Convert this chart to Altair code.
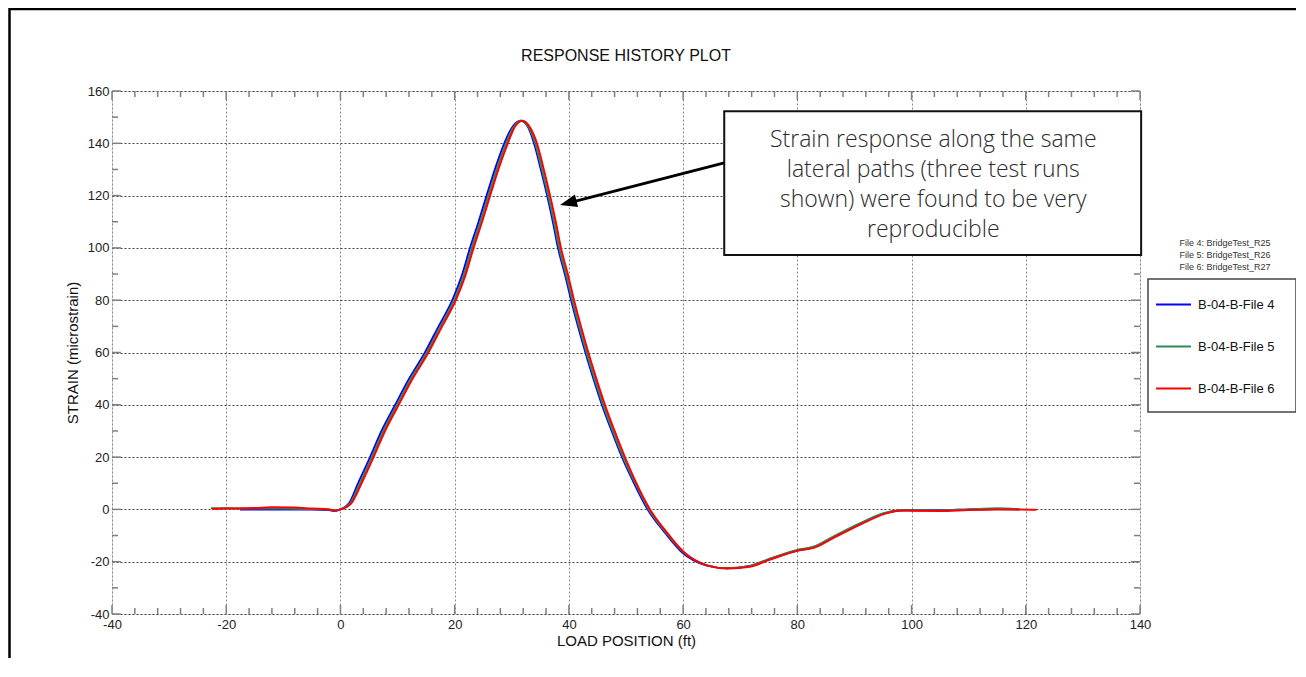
import altair as alt
import pandas as pd

# ---------------- data ----------------
series_names = ["B-04-B-File 4", "B-04-B-File 5", "B-04-B-File 6"]
series_colors = ["#0000ff", "#2e8b57", "#ff0000"]

x4 = [-17.6, -15, -10, -5, -2, -1, 0, 1.5, 3.1, 5.2, 7.2, 9.6, 11.9, 14.8, 17.1, 19.6, 21.2,
      22.7, 24.2, 25.6, 27.2, 28.7, 30.2, 31.6, 32.9, 33.9, 35.1, 36.2, 37.2, 38.1, 39.3, 40.4,
      41.6, 42.9, 44.3, 45.8, 47.5, 49.3, 51.2, 53.8, 56.6, 59.8, 64.0, 67.5, 71.6, 74.6, 80.0,
      82.8, 86.3, 91.0, 95.0, 98.0, 100, 105, 110, 115, 118.9]
y4 = [0.0, 0.0, 0.0, 0.0, -0.2, -0.6, 0.0, 2.3, 10.0, 20.0, 30.0, 40.0, 49.5, 60.0, 69.6, 80.0, 89.0,
      100.0, 110.0, 120.0, 131.0, 140.0, 146.5, 148.6, 146.0, 140.0, 130.0, 120.0, 110.0, 100.0, 90.0, 80.0,
      70.0, 60.0, 50.0, 40.0, 30.0, 20.0, 11.0, 0.0, -8.3, -16.4, -21.4, -22.5, -21.7, -19.5, -15.7,
      -14.5, -10.6, -5.5, -1.6, -0.4, -0.3, -0.3, 0.0, 0.2, 0.0]

x5 = [-22.7, -20, -15, -10, -5, -2, -1, 0, 1.7, 3.4, 5.5, 7.5, 9.9, 12.2, 15.1, 17.4, 19.9, 21.5,
      23.0, 24.5, 25.9, 27.5, 29.0, 30.4, 31.7, 33.0, 34.1, 35.3, 36.4, 37.4, 38.3, 39.5, 40.6,
      41.8, 43.1, 44.5, 46.0, 47.7, 49.5, 51.4, 54.0, 56.8, 60.0, 64.1, 67.6, 71.7, 74.6, 80.0,
      82.8, 86.3, 91.0, 95.1, 98.0, 100, 105, 110, 115, 118.7]
y5 = [0.4, 0.4, 0.3, 0.3, 0.2, 0.0, -0.4, 0.0, 2.3, 10.0, 20.0, 30.0, 40.0, 49.5, 60.0, 69.6, 80.0, 89.0,
      100.0, 110.0, 120.0, 131.0, 140.0, 146.5, 148.6, 146.0, 140.0, 130.0, 120.0, 110.0, 100.0, 90.0, 80.0,
      70.0, 60.0, 50.0, 40.0, 30.0, 20.0, 11.0, 0.0, -8.3, -16.2, -21.3, -22.5, -21.6, -19.3, -15.5,
      -14.3, -10.4, -5.3, -1.5, -0.3, -0.3, -0.4, 0.0, 0.4, 0.0]

x6 = [-22.5, -20, -15, -12, -8, -5, -2, -1, 0, 1.9, 3.7, 5.8, 7.8, 10.2, 12.5, 15.4, 17.7, 20.2,
      21.8, 23.3, 24.8, 26.2, 27.8, 29.3, 30.6, 31.9, 33.2, 34.4, 35.6, 36.7, 37.7, 38.6, 39.8,
      40.9, 42.1, 43.4, 44.8, 46.3, 48.0, 49.8, 51.6, 54.2, 57.0, 60.2, 64.3, 67.8, 71.9, 74.8,
      80.2, 83.0, 86.5, 91.2, 95.3, 98.2, 100, 105, 110, 115, 119, 121.9]
y6 = [0.2, 0.3, 0.5, 0.8, 0.7, 0.3, 0.0, -0.4, 0.0, 2.3, 10.0, 20.0, 30.0, 40.0, 49.5, 60.0, 69.6, 80.0,
      89.0, 100.0, 110.0, 120.0, 131.0, 140.0, 146.5, 148.6, 146.0, 140.0, 130.0, 120.0, 110.0, 100.0, 90.0,
      80.0, 70.0, 60.0, 50.0, 40.0, 30.0, 20.0, 11.0, 0.0, -8.4, -16.5, -21.5, -22.6, -21.8, -19.5,
      -15.7, -14.6, -10.7, -5.6, -1.7, -0.4, -0.5, -0.6, -0.2, 0.0, 0.0, -0.1]

x_major = [-40, -20, 0, 20, 40, 60, 80, 100, 120, 140]
y_major = [-40, -20, 0, 20, 40, 60, 80, 100, 120, 140, 160]
x_minor = [-36, -32, -28, -24, -16, -12, -8, -4, 4, 8, 12, 16, 24, 28, 32, 36, 44, 48, 52, 56,
           64, 68, 72, 76, 84, 88, 92, 96, 104, 108, 112, 116, 124, 128, 132, 136]
y_minor = [-30, -10, 10, 30, 50, 70, 90, 110, 130, 150]

title_text = "RESPONSE HISTORY PLOT"
x_title = "LOAD POSITION (ft)"
y_title = "STRAIN (microstrain)"
note_lines = ["Strain response along the same", "lateral paths (three test runs",
              "shown) were found to be very", "reproducible"]
file_lines = ["File 4: BridgeTest_R25", "File 5: BridgeTest_R26", "File 6: BridgeTest_R27"]

# annotation geometry in data units
note_box = {"x": 67.2, "x2": 140.2, "y": 97.3, "y2": 152.3}
note_first_line = {"x": 103.8, "y": 141.4}
arrow_start = {"x": 67.2, "y": 132.5}
arrow_base = {"x": 40.5, "y": 117.5}
arrow_tip = {"x": 38.45, "y": 116.4}

# ---------------- build tables ----------------
frames = []
for name, xs_, ys_ in zip(series_names, [x4, x5, x6], [y4, y5, y6]):
    frames.append(pd.DataFrame({"x": xs_, "y": ys_, "series": name}))
df = pd.concat(frames, ignore_index=True)

W, H = 1028, 523
FONT = "Liberation Sans"
xs = alt.Scale(domain=[-40, 140], nice=False, zero=False)
ys = alt.Scale(domain=[-40, 160], nice=False, zero=False)
plain_label = "datum.value + ''"

frame = alt.Chart(pd.DataFrame({"a": [0]})).mark_rect(
    filled=False, stroke="#000000", strokeWidth=2.5
).encode(x=alt.value(-102.5), x2=alt.value(W + 400), y=alt.value(-82), y2=alt.value(H + 400))

title = alt.Chart(pd.DataFrame({"a": [0]})).mark_text(
    text=title_text, font=FONT, fontSize=16, color="#111", align="center", baseline="middle"
).encode(x=alt.value(W / 2), y=alt.value(-35))

lines = alt.Chart(df).mark_line(strokeWidth=2, interpolate="monotone").encode(
    x=alt.X("x:Q", scale=xs, title=x_title,
            axis=alt.Axis(values=x_major, grid=True, gridDash=[2, 2], gridColor="#8a8a8a",
                          gridWidth=1, domain=False, ticks=False, labelFontSize=13, labelFont=FONT,
                          labelColor="#222", labelPadding=4, labelFlush=False, labelOverlap=False,
                          labelExpr=plain_label,
                          titleFont=FONT, titleFontSize=15, titleFontWeight="normal",
                          titleColor="#111", titlePadding=2)),
    y=alt.Y("y:Q", scale=ys, title=y_title,
            axis=alt.Axis(values=y_major, grid=True, gridDash=[2, 2], gridColor="#444444",
                          gridWidth=1, domain=False, ticks=False, labelFontSize=13, labelFont=FONT,
                          labelColor="#222", labelPadding=3, labelFlush=False, labelOverlap=False,
                          labelExpr=plain_label,
                          titleFont=FONT, titleFontSize=15, titleFontWeight="normal",
                          titleColor="#111", titlePadding=7)),
    color=alt.Color("series:N", scale=alt.Scale(domain=series_names, range=series_colors),
                    legend=alt.Legend(orient="none", legendX=1036, legendY=188, title=None,
                                      symbolType="stroke", symbolSize=1225, symbolStrokeWidth=2,
                                      rowPadding=16, labelFontSize=13, labelFont=FONT,
                                      labelColor="#111", labelOffset=6, padding=7)),
)

tick_color = "#7f7f7f"
xmin_df = pd.DataFrame({"x": x_minor})
xmaj_df = pd.DataFrame({"x": x_major})
ymin_df = pd.DataFrame({"y": y_minor})
ymaj_df = pd.DataFrame({"y": y_major})


def xticks(data, length):
    bottom = alt.Chart(data).mark_rule(color=tick_color, strokeWidth=1.5).encode(
        x=alt.X("x:Q", scale=xs), y=alt.value(H), y2=alt.value(H - length))
    top = alt.Chart(data).mark_rule(color=tick_color, strokeWidth=1.5).encode(
        x=alt.X("x:Q", scale=xs), y=alt.value(0), y2=alt.value(length))
    return [bottom, top]


def yticks(data, length):
    left = alt.Chart(data).mark_rule(color=tick_color, strokeWidth=1.5).encode(
        y=alt.Y("y:Q", scale=ys), x=alt.value(0), x2=alt.value(length))
    right = alt.Chart(data).mark_rule(color=tick_color, strokeWidth=1.5).encode(
        y=alt.Y("y:Q", scale=ys), x=alt.value(W), x2=alt.value(W - length))
    return [left, right]


ticks = xticks(xmin_df, 6) + xticks(xmaj_df, 9) + yticks(ymin_df, 6) + yticks(ymaj_df, 9)

box = alt.Chart(pd.DataFrame([note_box])).mark_rect(
    fill="white", stroke="#111", strokeWidth=2
).encode(x=alt.X("x:Q", scale=xs), x2="x2:Q", y=alt.Y("y:Q", scale=ys), y2="y2:Q")

note = alt.Chart(pd.DataFrame([note_first_line])).mark_text(
    text=note_lines, font="Open Sans", fontSize=23, fontWeight=300, lineHeight=30,
    color="#2a2a2a", align="center", baseline="middle"
).encode(x=alt.X("x:Q", scale=xs), y=alt.Y("y:Q", scale=ys))

shaft = alt.Chart(pd.DataFrame([{"x": arrow_start["x"], "y": arrow_start["y"],
                                 "x2": arrow_base["x"], "y2": arrow_base["y"]}])).mark_rule(
    color="black", strokeWidth=3
).encode(x=alt.X("x:Q", scale=xs), x2="x2:Q", y=alt.Y("y:Q", scale=ys), y2="y2:Q")

head = alt.Chart(pd.DataFrame([arrow_tip])).mark_point(
    shape="M0,0 L1,-0.38 L1,0.38 Z", filled=True, size=1156, angle=345.6,
    color="black", opacity=1
).encode(x=alt.X("x:Q", scale=xs), y=alt.Y("y:Q", scale=ys))

legend_box = alt.Chart(pd.DataFrame({"a": [0]})).mark_rect(
    fill="white", stroke="#444", strokeWidth=1.5
).encode(x=alt.value(1036), x2=alt.value(1184), y=alt.value(188), y2=alt.value(321))

file_text = alt.Chart(pd.DataFrame({"a": [0]})).mark_text(
    text=file_lines, font=FONT, fontSize=9, lineHeight=12, color="#333",
    align="center", baseline="top"
).encode(x=alt.value(1113), y=alt.value(148))

chart = alt.layer(
    frame, title, legend_box, file_text, lines, *ticks, box, note, shaft, head
).properties(
    width=W, height=H,
    autosize=alt.AutoSizeParams(type="none"),
    padding={"left": 104, "top": 83, "right": 156, "bottom": 44},
).configure_view(
    stroke="#808080", strokeWidth=2
).configure(background="white")

chart.save("out.html", embed_options={"renderer": "svg", "actions": False})
